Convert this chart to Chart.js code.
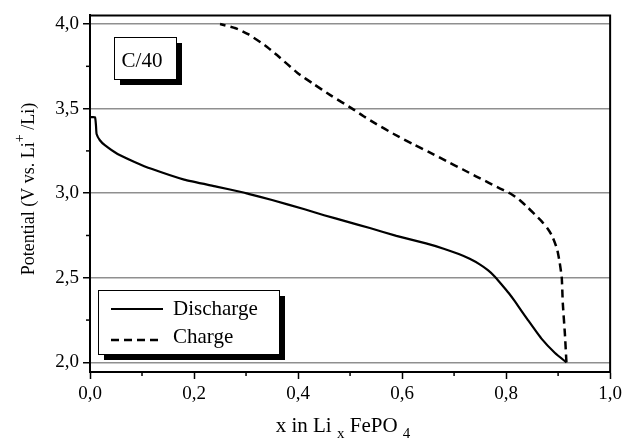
<!DOCTYPE html>
<html><head><meta charset="utf-8">
<script src="https://cdn.jsdelivr.net/npm/chart.js@4.4.0/dist/chart.umd.min.js"></script>
<style>html,body{margin:0;padding:0;background:#fff;}#wrap{width:626px;height:439px;}</style>
</head><body><div id="wrap"><canvas id="c" width="626" height="439"></canvas></div>
<script>
// ---- data ----
const dischargeX = [0, 0.0095, 0.0115, 0.0127, 0.019, 0.0285, 0.053, 0.0856, 0.118, 0.181, 0.243, 0.295, 0.3045, 0.35, 0.4125, 0.45, 0.494, 0.538, 0.589, 0.646, 0.68, 0.709, 0.73, 0.75, 0.765, 0.778, 0.79, 0.805, 0.817, 0.842, 0.868, 0.894, 0.916];
const dischargeY = [3.449, 3.449, 3.40, 3.35, 3.313, 3.284, 3.232, 3.185, 3.144, 3.08, 3.039, 3.004, 2.996, 2.96, 2.905, 2.87, 2.832, 2.794, 2.748, 2.703, 2.672, 2.64, 2.612, 2.578, 2.545, 2.508, 2.465, 2.41, 2.36, 2.25, 2.14, 2.055, 2.0];
const chargeX = [0.916, 0.913, 0.909, 0.907, 0.903, 0.898, 0.888, 0.88, 0.868, 0.855, 0.842, 0.825, 0.808, 0.785, 0.766, 0.742, 0.717, 0.685, 0.652, 0.621, 0.584, 0.55, 0.526, 0.504, 0.462, 0.43, 0.399, 0.36, 0.336, 0.304, 0.28, 0.25];
const chargeY = [2.0, 2.17, 2.35, 2.5, 2.59, 2.67, 2.75, 2.79, 2.835, 2.875, 2.915, 2.962, 2.998, 3.033, 3.063, 3.10, 3.14, 3.19, 3.243, 3.29, 3.35, 3.41, 3.455, 3.5, 3.58, 3.645, 3.711, 3.815, 3.875, 3.94, 3.975, 4.0];
const seriesLabels = ['Discharge', 'Charge'];
const xMajorTicks = [0, 0.2, 0.4, 0.6, 0.8, 1.0];
const xTickLabels = ['0,0', '0,2', '0,4', '0,6', '0,8', '1,0'];
const xMinorTicks = [0.1, 0.3, 0.5, 0.7, 0.9];
const yMajorTicks = [2.0, 2.5, 3.0, 3.5, 4.0];
const yTickLabels = ['2,0', '2,5', '3,0', '3,5', '4,0'];
const yMinorTicks = [2.25, 2.75, 3.25, 3.75];
const rateLabel = 'C/40';

const SERIF = '"Liberation Serif", "Times New Roman", serif';
const toPts = (xs, ys) => xs.map((x, i) => ({x: x, y: ys[i]}));
const isIn = (arr, v) => arr.findIndex(a => Math.abs(a - v) < 1e-6);

const decor = {
  id: 'decor',
  afterDraw(chart) {
    const ctx = chart.ctx, a = chart.chartArea, xs = chart.scales.x, ys = chart.scales.y;
    ctx.save();
    ctx.strokeStyle = '#000';
    ctx.lineWidth = 2;
    ctx.beginPath();
    ctx.moveTo(a.left - 1, a.top); ctx.lineTo(a.right, a.top); ctx.lineTo(a.right, a.bottom + 1);
    ctx.stroke();
    // minor ticks
    ctx.lineWidth = 1.5;
    yMinorTicks.forEach(v => { const y = ys.getPixelForValue(v); ctx.beginPath(); ctx.moveTo(a.left - 4, y); ctx.lineTo(a.left, y); ctx.stroke(); });
    xMinorTicks.forEach(v => { const x = xs.getPixelForValue(v); ctx.beginPath(); ctx.moveTo(x, a.bottom); ctx.lineTo(x, a.bottom + 4); ctx.stroke(); });

    // rate box
    const bx = 114, by = 37, bw = 62, bh = 42, sh = 6;
    ctx.fillStyle = '#000'; ctx.fillRect(bx + sh, by + sh, bw, bh);
    ctx.fillStyle = '#fff'; ctx.fillRect(bx, by, bw, bh);
    ctx.lineWidth = 1; ctx.strokeStyle = '#000'; ctx.strokeRect(bx + 0.5, by + 0.5, bw, bh);
    ctx.fillStyle = '#000'; ctx.font = '21px ' + SERIF; ctx.textAlign = 'center'; ctx.textBaseline = 'alphabetic';
    ctx.fillText(rateLabel, bx + bw / 2 - 3, by + 30);

    // legend box
    const lx = 98, ly = 290, lw = 181, lh = 64;
    ctx.fillStyle = '#000'; ctx.fillRect(lx + sh, ly + sh, lw, lh);
    ctx.fillStyle = '#fff'; ctx.fillRect(lx, ly, lw, lh);
    ctx.strokeRect(lx + 0.5, ly + 0.5, lw, lh);
    const rows = [{ly: 309, ty: 315}, {ly: 340, ty: 343}];
    chart.data.datasets.forEach((ds, i) => {
      ctx.strokeStyle = ds.borderColor; ctx.lineWidth = ds.borderWidth;
      ctx.setLineDash(ds.borderDash || []);
      ctx.beginPath(); ctx.moveTo(111, rows[i].ly); ctx.lineTo(163, rows[i].ly); ctx.stroke();
      ctx.setLineDash([]);
      ctx.fillStyle = '#000'; ctx.font = '21px ' + SERIF; ctx.textAlign = 'left';
      ctx.fillText(ds.label, 173, rows[i].ty);
    });

    // x title with subscripts
    const xParts = [['x in Li ', 21, 0], ['x', 15, 6], [' FePO ', 21, 0], ['4', 15, 6]];
    drawParts(ctx, xParts, 343, 432);
    // y title (rotated) with superscript
    ctx.save();
    ctx.translate(34, 189);
    ctx.rotate(-Math.PI / 2);
    const yParts = [['Potential (V vs. Li', 18, 0], ['+', 14, -10], [' /Li)', 18, 0]];
    drawParts(ctx, yParts, 0, 0);
    ctx.restore();
    ctx.restore();
  }
};
function drawParts(ctx, parts, cx, base) {
  let total = 0;
  parts.forEach(p => { ctx.font = p[1] + 'px ' + SERIF; total += ctx.measureText(p[0]).width; });
  let x = cx - total / 2;
  ctx.textAlign = 'left'; ctx.textBaseline = 'alphabetic'; ctx.fillStyle = '#000';
  parts.forEach(p => { ctx.font = p[1] + 'px ' + SERIF; ctx.fillText(p[0], x, base + p[2]); x += ctx.measureText(p[0]).width; });
}

new Chart(document.getElementById('c'), {
  type: 'scatter',
  data: {
    datasets: [
      {label: seriesLabels[0], data: toPts(dischargeX, dischargeY), showLine: true, borderColor: '#000', borderWidth: 2.2, pointRadius: 0, tension: 0.15, fill: false},
      {label: seriesLabels[1], data: toPts(chargeX, chargeY), showLine: true, borderColor: '#000', borderWidth: 2.5, borderDash: [8, 5], pointRadius: 0, tension: 0.2, fill: false}
    ]
  },
  options: {
    responsive: false, animation: false, devicePixelRatio: 1,
    layout: {padding: {left: 0, right: 10, top: 12, bottom: 0}},
    plugins: {legend: {display: false}, tooltip: {enabled: false}},
    scales: {
      x: {
        type: 'linear', min: 0, max: 1,
        afterBuildTicks: s => { s.ticks = xMajorTicks.map(v => ({value: v})); },
        afterFit: s => { s.height = 67; },
        ticks: {autoSkip: false, maxRotation: 0, padding: 4, color: '#000', font: {family: SERIF, size: 19},
          callback: v => { const i = isIn(xMajorTicks, v); return i >= 0 ? xTickLabels[i] : ''; }},
        grid: {display: true, drawOnChartArea: false, drawTicks: true, tickLength: 7, tickColor: '#000', tickWidth: 1.5},
        border: {display: true, color: '#000', width: 2},
        title: {display: false}
      },
      y: {
        type: 'linear', min: 1.943, max: 4.051,
        afterBuildTicks: s => { s.ticks = yMajorTicks.map(v => ({value: v})); },
        afterFit: s => { s.width = 90; },
        ticks: {autoSkip: false, padding: 4, color: '#000', font: {family: SERIF, size: 19},
          callback: v => { const i = isIn(yMajorTicks, v); return i >= 0 ? yTickLabels[i] : ''; }},
        grid: {display: true, drawOnChartArea: true, drawTicks: true, tickLength: 7, color: '#8f8f8f', lineWidth: 1.5, tickColor: '#000', tickWidth: 1.5},
        border: {display: true, color: '#000', width: 2},
        title: {display: false}
      }
    }
  },
  plugins: [decor]
});
</script>
</body></html>
